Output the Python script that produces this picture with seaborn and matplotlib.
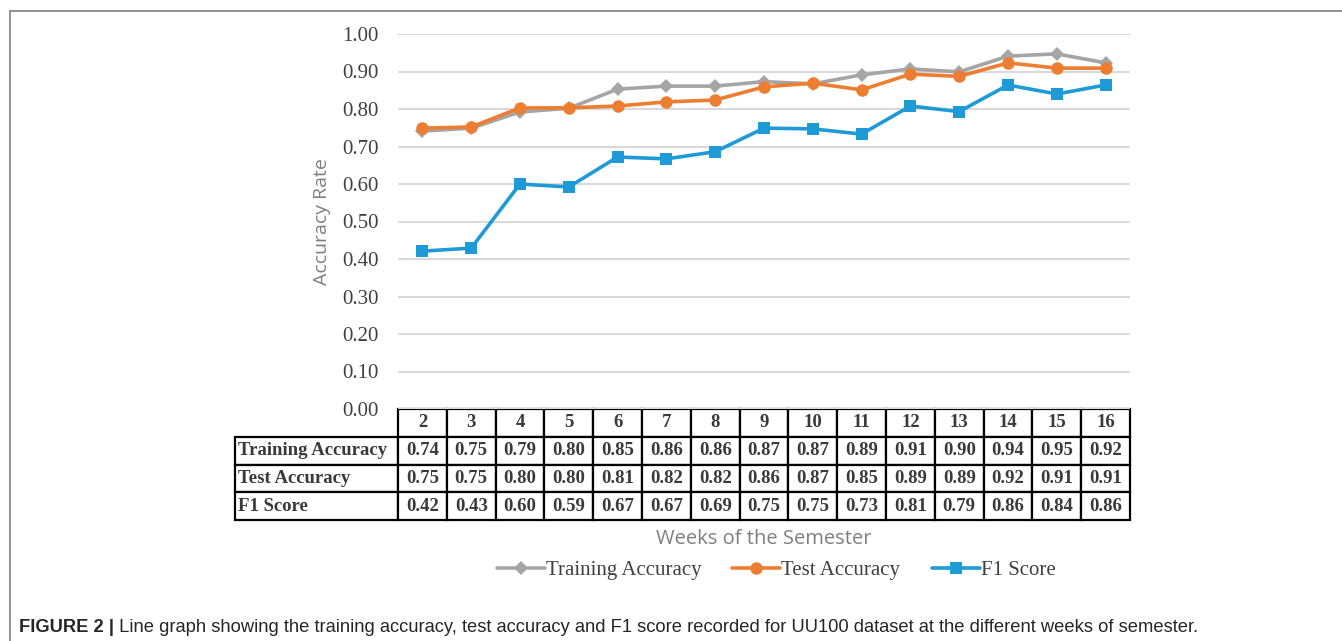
import matplotlib
matplotlib.use("Agg")
import matplotlib.pyplot as plt
from matplotlib.lines import Line2D
import seaborn as sns
import pandas as pd

# weeks of the semester and the three series
weeks = [2, 3, 4, 5, 6, 7, 8, 9, 10, 11, 12, 13, 14, 15, 16]
training_acc = [0.741, 0.749, 0.792, 0.802, 0.853, 0.861, 0.861, 0.873, 0.867,
                0.891, 0.907, 0.899, 0.941, 0.947, 0.923]
test_acc = [0.749, 0.752, 0.803, 0.803, 0.808, 0.819, 0.824, 0.859, 0.869,
            0.851, 0.893, 0.887, 0.923, 0.909, 0.909]
f1_score = [0.421, 0.429, 0.600, 0.592, 0.672, 0.667, 0.686, 0.749, 0.747,
            0.733, 0.808, 0.793, 0.864, 0.840, 0.864]
series_names = ["Training Accuracy", "Test Accuracy", "F1 Score"]
y_ticks = [0.0, 0.1, 0.2, 0.3, 0.4, 0.5, 0.6, 0.7, 0.8, 0.9, 1.0]

colores = ["#A5A5A5", "#ED7D31", "#1E9BD7"]
marcadores = ["D", "o", "s"]
tamanos = [7, 9, 8.5]

sns.set_style("white")
plt.rcParams['font.family'] = ['Liberation Serif', 'DejaVu Serif']

W, H = 1342, 641
fig = plt.figure(figsize=(W / 100, H / 100), dpi=100)
ax = fig.add_axes([398 / W, (H - 409) / H, 732 / W, 375 / H])

pos = list(range(len(weeks)))
valores = [training_acc, test_acc, f1_score]
handles = []
for nombre, vals, c, m, ms in zip(series_names, valores, colores, marcadores, tamanos):
    df = pd.DataFrame({'pos': pos, 'valor': vals})
    sns.lineplot(data=df, x='pos', y='valor', ax=ax, color=c, marker=m,
                 markersize=ms, markeredgewidth=0, linewidth=2.6, zorder=3)
    handles.append(Line2D([], [], color=c, marker=m, markersize=ms,
                          markeredgewidth=0, linewidth=2.6, label=nombre))

ax.set_xlim(-0.5, len(weeks) - 0.5)
ax.set_ylim(0, 1.0)
ax.set_yticks(y_ticks)
ax.set_yticklabels([f"{v:.2f}" for v in y_ticks], fontsize=15, color="#404040")
ax.set_xticks([])
ax.tick_params(axis='y', length=0, pad=14)
ax.grid(axis='y', color="#D9D9D9", linewidth=1.5)
ax.set_axisbelow(True)
for s in ax.spines.values():
    s.set_visible(False)
ax.set_xlabel("")
ax.set_ylabel("Accuracy Rate", fontsize=14, color="#7F7F7F", family="Open Sans", labelpad=8)

# tabla de datos debajo del grafico
filas = [[""] + [str(w) for w in weeks]]
for nombre, vals in zip(series_names, valores):
    filas.append([nombre] + [f"{v:.2f}" for v in vals])
ancho_lbl = 163 / 895
ancho_col = (1 - ancho_lbl) / len(weeks)
tabla = ax.table(cellText=filas, colWidths=[ancho_lbl] + [ancho_col] * len(weeks),
                 cellLoc='center', bbox=[-163 / 732, -111 / 375, 895 / 732, 111 / 375])
tabla.auto_set_font_size(False)
for (r, c), cell in tabla.get_celld().items():
    cell.set_linewidth(1.6)
    cell.set_edgecolor("black")
    cell.get_text().set_fontsize(13.5)
    cell.get_text().set_fontweight('bold')
    cell.get_text().set_color("#3A3A3A")
    if c == 0:
        cell.get_text().set_ha('left')
        cell.PAD = 0.02
    if r == 0 and c == 0:
        cell.visible_edges = ''

fig.text(764 / W, 1 - 539 / H, "Weeks of the Semester", fontsize=14.5, color="#7F7F7F",
         family="Open Sans", ha='center', va='center')

fig.legend(handles=handles, loc='center', bbox_to_anchor=(776 / W, 1 - 570 / H),
           ncol=3, frameon=False, fontsize=15, handlelength=2.3, handletextpad=0.05,
           columnspacing=1.5, labelcolor="#404040")

# marco y pie de figura
fig.add_artist(Line2D([10 / W, 1], [1 - 11 / H, 1 - 11 / H], color="#7F7F7F", linewidth=1.2))
fig.add_artist(Line2D([10 / W, 10 / W], [0, 1 - 11 / H], color="#7F7F7F", linewidth=1.2))
negrita = fig.text(19 / W, 1 - 627 / H, "FIGURE 2 |", fontsize=13.2, fontweight='bold',
                   family="Liberation Sans", va='center', ha='left')
plt.annotate(" Line graph showing the training accuracy, test accuracy and F1 score recorded for UU100 dataset at the different weeks of semester.",
             xy=(1, 0.5), xycoords=negrita, va='center', ha='left', fontsize=13.2,
             family="Liberation Sans", annotation_clip=False)

plt.savefig("out.png", dpi=100)
